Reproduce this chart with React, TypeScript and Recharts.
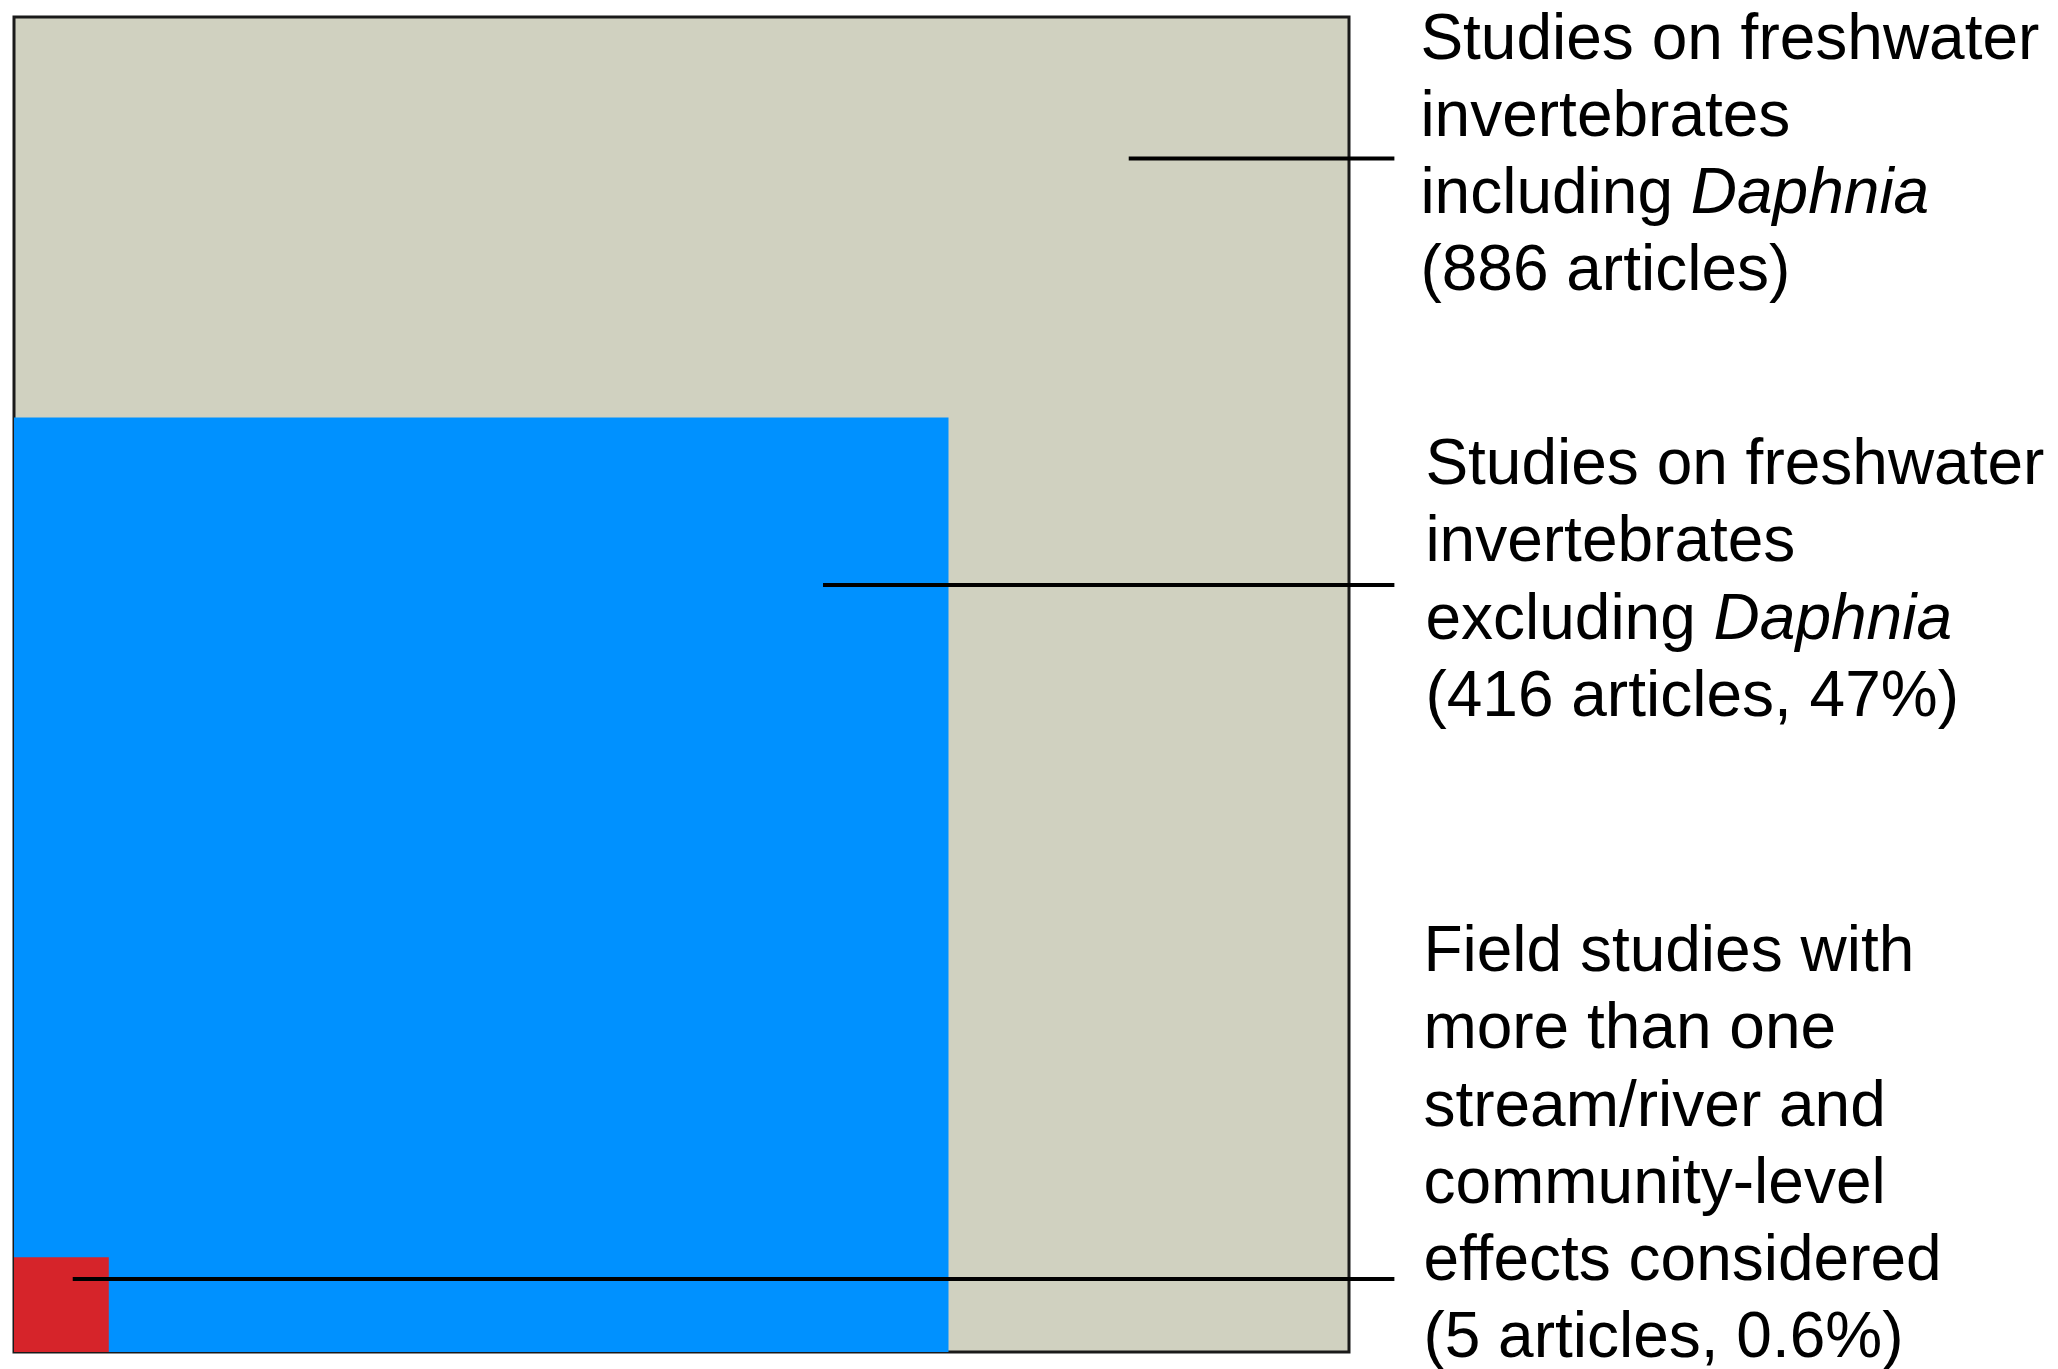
import { ComposedChart, ReferenceArea, ReferenceLine, XAxis, YAxis } from 'recharts';

// article counts per nested group (outer -> inner)
const groups = ['including Daphnia', 'excluding Daphnia', 'field, multi-river, community-level'];
const articles = [886, 416, 5];
const shares = [100, 47, 0.6];
// square side length relative to the outer square
const sides = [100, 70, 7.1];

const FILLS = ['#d0d1c0', '#0091ff', '#d6242a'];

// leader line start points inside each square (data units) and common end
const LEADERS = [
  { x: 83.5, y: 89.4 },
  { x: 60.6, y: 57.45 },
  { x: 4.4, y: 5.47 },
];
const LEADER_END = 103.4;

type Seg = [string, boolean?];
const labelLines: Seg[][][] = [
  [
    [['Studies on freshwater']],
    [['invertebrates']],
    [['including '], ['Daphnia', true]],
    [[`(${articles[0]} articles)`]],
  ],
  [
    [['Studies on freshwater']],
    [['invertebrates']],
    [['excluding '], ['Daphnia', true]],
    [[`(${articles[1]} articles, ${shares[1]}%)`]],
  ],
  [
    [['Field studies with']],
    [['more than one']],
    [['stream/river and']],
    [['community-level']],
    [['effects considered']],
    [[`(${articles[2]} articles, ${shares[2]}%)`]],
  ],
];
const FIRST_BASELINE = [-100, -101, -308];
const TEXT_DX = [26, 31, 29];
const ROW = 77.3;

function makeLabel(i: number) {
  return (props: any) => {
    const vb = props.viewBox || {};
    const x = (vb.x ?? 0) + (vb.width ?? 0) + TEXT_DX[i];
    const y = (vb.y ?? 0) + FIRST_BASELINE[i];
    return (
      <g transform={`translate(${x},${y})`}>
        {labelLines[i].map((line, r) => (
          <text
            key={r}
            x={0}
            y={r * ROW}
            fontFamily="'Liberation Sans', Arial, sans-serif"
            fontSize={64}
            fill="#000"
          >
            {line.map(([t, it], k) => (
              <tspan key={k} fontStyle={it ? 'italic' : 'normal'}>
                {t}
              </tspan>
            ))}
          </text>
        ))}
      </g>
    );
  };
}

export default function App() {
  const data = groups.map((name, i) => ({ name, articles: articles[i], side: sides[i] }));
  return (
    <ComposedChart
      width={2050}
      height={1361}
      data={data}
      margin={{ top: 9, left: 6, right: 709, bottom: 17 }}
    >
      <XAxis type="number" dataKey="side" domain={[0, 100]} hide allowDataOverflow />
      <YAxis type="number" domain={[0, 100]} hide allowDataOverflow />
      {data.map((d, i) => (
        <ReferenceArea
          key={d.name}
          x1={0}
          x2={d.side}
          y1={0}
          y2={d.side}
          fill={FILLS[i]}
          fillOpacity={1}
          stroke={i === 0 ? '#1a1a1a' : 'none'}
          strokeWidth={i === 0 ? 3 : 0}
          ifOverflow="visible"
        />
      ))}
      {LEADERS.map((p, i) => (
        <ReferenceLine
          key={i}
          segment={[
            { x: p.x, y: p.y },
            { x: LEADER_END, y: p.y },
          ]}
          stroke="#000"
          strokeWidth={4}
          ifOverflow="visible"
          label={makeLabel(i)}
        />
      ))}
    </ComposedChart>
  );
}
